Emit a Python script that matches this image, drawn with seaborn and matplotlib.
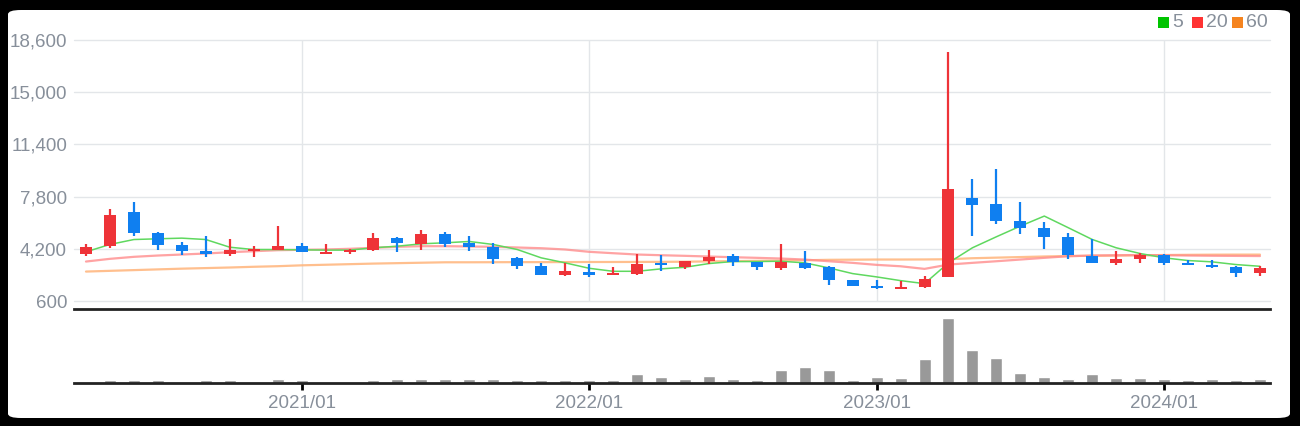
import numpy as np
import pandas as pd
import seaborn as sns
import matplotlib.pyplot as plt
from matplotlib.patches import FancyBboxPatch, Rectangle

sns.set_theme(style="white")
plt.rcParams['font.family'] = ['Liberation Sans', 'DejaVu Sans']

# monthly candles 2020/04 .. 2024/05
months = pd.period_range("2020-04", "2024-05", freq="M").strftime("%Y/%m").tolist()
opens = [3831, 4362, 6716, 5262, 4431, 4038, 3831, 4038, 4131, 4362,
         3831, 3946, 4100, 4915, 4500, 5192, 4569, 4292, 3600, 3046,
         2423, 2631, 2423, 2492, 3254, 2977, 3392, 3669, 3323, 2908,
         3254, 2977, 2077, 1662, 1454, 1592, 2285, 7682, 7267, 6090,
         5605, 4982, 3736, 3203, 3529, 3806, 3252, 3113, 2975, 2560]
highs = [4500, 6923, 7408, 5331, 4638, 5054, 4846, 4362, 5746, 4569,
         4500, 4200, 5322, 4985, 5469, 5331, 5054, 4569, 3650, 3254,
         3254, 3185, 2977, 3808, 3738, 3392, 4085, 3808, 3323, 4500,
         4015, 3000, 2077, 2077, 2008, 2354, 17800, 9000, 9690, 7405,
         6020, 5259, 4844, 4082, 3944, 3875, 3460, 3460, 3045, 3045]
lows = [3692, 4246, 5077, 4108, 3762, 3623, 3692, 3623, 4085, 3946,
        3831, 3831, 4034, 3946, 4085, 4292, 4015, 3185, 2838, 2423,
        2354, 2285, 2423, 2423, 2700, 2838, 3185, 3046, 2769, 2769,
        2838, 1731, 1662, 1454, 1454, 1523, 2285, 5072, 5882, 5190,
        4220, 3529, 3203, 3113, 3203, 3113, 3113, 2906, 2283, 2352]
closes = [4338, 6508, 5285, 4454, 4038, 3831, 4085, 4177, 4362, 3946,
          3946, 4131, 4913, 4569, 5192, 4500, 4292, 3531, 3046, 2423,
          2700, 2423, 2562, 3185, 3115, 3392, 3600, 3323, 2977, 3323,
          2908, 2077, 1662, 1523, 1592, 2146, 8308, 7218, 6111, 5605,
          5003, 3806, 3203, 3529, 3806, 3252, 3113, 2975, 2560, 2906]
volumes = [50, 350, 350, 350, 50, 350, 350, 50, 400, 350,
           50, 50, 350, 400, 400, 400, 400, 400, 350, 350,
           350, 350, 350, 950, 650, 400, 750, 400, 350, 1350,
           1650, 1350, 350, 650, 550, 2400, 6600, 3300, 2500, 1050,
           650, 450, 950, 550, 550, 400, 300, 400, 300, 400]
ma5 = [3990, 4500, 4840, 4890, 4935, 4840, 4310, 4150, 4150, 4130,
       4110, 4110, 4270, 4380, 4545, 4615, 4705, 4498, 4152, 3577,
       3231, 2857, 2649, 2649, 2815, 2926, 3182, 3321, 3321, 3342,
       3231, 2885, 2490, 2262, 2005, 1798, 3231, 4270, 5030, 5765,
       6457, 5654, 4844, 4270, 3875, 3577, 3390, 3300, 3113, 2995]
ma20 = [3321, 3508, 3646, 3736, 3806, 3875, 3965, 4034, 4103, 4130,
        4152, 4200, 4270, 4338, 4380, 4380, 4360, 4338, 4290, 4240,
        4152, 3992, 3896, 3806, 3757, 3715, 3667, 3619, 3577, 3529,
        3459, 3342, 3231, 3092, 2995, 2815, 3113, 3231, 3342, 3459,
        3577, 3688, 3736, 3757, 3770, 3757, 3736, 3720, 3710, 3700]
ma60 = [2630, 2680, 2730, 2780, 2830, 2870, 2910, 2960, 3000, 3060,
        3100, 3140, 3180, 3210, 3240, 3270, 3270, 3275, 3280, 3280,
        3285, 3290, 3290, 3295, 3300, 3310, 3330, 3350, 3370, 3390,
        3410, 3440, 3450, 3460, 3460, 3465, 3480, 3550, 3590, 3630,
        3670, 3700, 3720, 3730, 3757, 3770, 3785, 3795, 3800, 3800]
year_ticks = ["2021/01", "2022/01", "2023/01", "2024/01"]
price_ticks = [600, 4200, 7800, 11400, 15000, 18600]

df = pd.DataFrame({"month": months, "open": opens, "high": highs, "low": lows,
                   "close": closes, "volume": volumes,
                   "ma5": ma5, "ma20": ma20, "ma60": ma60})
df["i"] = np.arange(len(df))

UP, DOWN = "#ee3338", "#0f7ff0"
TXT = "#878f9a"
FS = 13.5
W, H = 1300, 426

fig = plt.figure(figsize=(W / 100, H / 100), dpi=100, facecolor="black")
fig.add_artist(FancyBboxPatch((8 / W, 8 / H), 1 - 18 / W, 1 - 18 / H,
                              boxstyle="round,pad=0,rounding_size=0.01",
                              transform=fig.transFigure, fc="white", ec="none",
                              zorder=-10))

ax = fig.add_axes([74 / W, 1 - 301 / H, (1270 - 74) / W, 261 / H])
axv = fig.add_axes([74 / W, 1 - 383 / H, (1270 - 74) / W, 74 / H], sharex=ax)
for a in (ax, axv):
    a.patch.set_visible(False)

# moving averages
sns.lineplot(data=df, x="i", y="ma60", ax=ax, color="#ffb47a", lw=1.6, alpha=0.85, zorder=1)
sns.lineplot(data=df, x="i", y="ma20", ax=ax, color="#ff8c8c", lw=1.6, alpha=0.8, zorder=1)
sns.lineplot(data=df, x="i", y="ma5", ax=ax, color="#5fd85f", lw=1.1, zorder=2)

# candles
colors = [UP if c >= o else DOWN for o, c in zip(df["open"], df["close"])]
ax.vlines(df["i"], df["low"], df["high"], colors=colors, lw=1.6, zorder=3)
body = (df["close"] - df["open"]).abs().clip(lower=60)
bottom = df[["open", "close"]].min(axis=1)
ax.bar(df["i"], body, bottom=bottom, width=0.5, color=colors, lw=0, zorder=4)

ax.set_ylim(600, 18600)
ax.set_yticks(price_ticks)
ax.set_yticklabels([f"{v:,}" for v in price_ticks])
ax.set_xlim(-0.5, len(df) - 0.58)
tick_pos = [months.index(t) for t in year_ticks]
ax.set_xticks(tick_pos)
ax.grid(True, color="#e3e6e9", lw=1)
ax.set_axisbelow(True)
for gl in ax.get_ygridlines():
    gl.set_clip_on(False)
ax.tick_params(axis="y", colors=TXT, labelsize=FS, length=0, pad=5)
ax.tick_params(axis="x", labelbottom=False, length=0)
ax.set_xlabel("")
ax.set_ylabel("")
sns.despine(ax=ax, left=True, bottom=True)

# volume
sns.barplot(data=df, x="i", y="volume", ax=axv, color="#999999", width=0.5,
            saturation=1, native_scale=True)
axv.set_ylim(0, 7500)
axv.set_yticks([])
axv.set_xlim(-0.5, len(df) - 0.58)
axv.set_xticks(tick_pos)
axv.set_xticklabels(year_ticks)
axv.tick_params(axis="x", colors="black", labelcolor=TXT, labelsize=FS,
                length=5, width=2, pad=4, direction="out", bottom=True)
axv.set_xlabel("")
axv.set_ylabel("")
for s in ("left", "right"):
    axv.spines[s].set_visible(False)
for s in ("top", "bottom"):
    axv.spines[s].set_visible(True)
    axv.spines[s].set_color("#222222")
    axv.spines[s].set_linewidth(2)
axv.grid(False)

# legend
for x0, col, lab in [(1158, "#00c400", "5"), (1192, "#ff3333", "20"), (1232, "#f5841f", "60")]:
    fig.add_artist(Rectangle((x0 / W, 1 - 28 / H), 11 / W, 11 / H,
                             transform=fig.transFigure, fc=col, ec="none"))
    fig.text((x0 + 14) / W, 1 - 22.5 / H, lab, color=TXT, fontsize=FS + 0.5,
             va="center", ha="left")

fig.savefig("out.png", dpi=100, facecolor="black")
